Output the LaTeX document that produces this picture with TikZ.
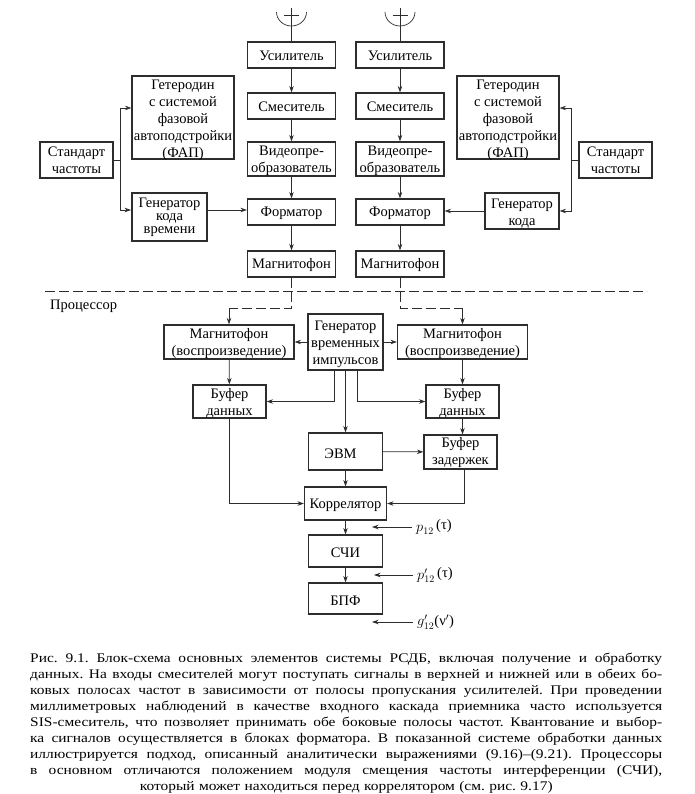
\documentclass[tikz,border=0pt]{standalone}
\usepackage{fontspec}
\setmainfont{Liberation Serif}
\newfontfamily\capfont[FakeStretch=1.17]{Liberation Serif}
\usepackage{tikz}
\usetikzlibrary{arrows.meta,positioning}
\definecolor{lineink}{RGB}{45,45,45}
\tikzstyle{block} = [rectangle, inner sep=0pt, text centered, align=center, draw=lineink, line width=1.2pt, font=\fontsize{14.5}{17}\selectfont]
\tikzstyle{chain} = [block, minimum width=88pt, minimum height=26pt, execute at begin node=\rule{0pt}{12pt}]
\tikzstyle{hetbox} = [block, minimum width=102pt, minimum height=83pt]
\tikzstyle{stdbox} = [block, minimum width=73pt, minimum height=36pt]
\tikzstyle{playbox} = [block, minimum width=130pt, minimum height=34pt]
\tikzstyle{bufbox} = [block, minimum width=73pt, minimum height=33pt]
\tikzstyle{corebox} = [block, minimum width=74pt, execute at begin node=\rule{0pt}{14pt}]
\tikzstyle{arrow} = [line width=0.7pt,->,>={Stealth[length=6.5pt,width=4.5pt]},color=lineink]
\tikzstyle{plain} = [line width=0.7pt,color=lineink]
\tikzstyle{dashline} = [line width=0.7pt,color=lineink,dash pattern=on 10pt off 4pt]
\tikzstyle{sigtext} = [anchor=west, inner sep=4pt, font=\fontsize{14.5}{16}\selectfont]
\newcommand{\capline}[1]{\leavevmode\hbox to 632pt{\spaceskip=.25em plus 1fil minus .05em\relax #1}\\}
\newcommand{\lowgap}[1]{\rule{0pt}{#1pt}}
\begin{document}
\begin{tikzpicture}[x=1pt, y=-1pt]
\useasboundingbox (0,0) rectangle (694,794);

% Receiving chains
\node (usilA) [chain] at (291.5,55) {Усилитель};
\node (smesA) [chain] at (291.5,106) {Смеситель};
\node (videoA) [chain, minimum height=34pt] at (291.5,159) {\lowgap{14}Видеопре-\\образователь};
\node (formA) [chain] at (291.5,212) {Форматор};
\node (magA) [chain] at (291.5,264) {Магнитофон};
\node (usilB) [chain] at (400,55) {Усилитель};
\node (smesB) [chain] at (400,106) {Смеситель};
\node (videoB) [chain, minimum height=34pt] at (400,159) {\lowgap{14}Видеопре-\\образователь};
\node (formB) [chain] at (400,212) {Форматор};
\node (magB) [chain] at (400,264) {Магнитофон};

% Oscillators and standards
\node (hetA) [hetbox] at (183,117.5) {\lowgap{12}Гетеродин\\с системой\\фазовой\\автоподстройки\\(ФАП)\vspace{-2.5pt}};
\node (hetB) [hetbox] at (508,117.5) {\lowgap{12}Гетеродин\\с системой\\фазовой\\автоподстройки\\(ФАП)\vspace{-2.5pt}};
\node (stdA) [stdbox] at (76.5,160) {Стандарт\\частоты};
\node (stdB) [stdbox] at (615.5,160) {Стандарт\\частоты};
\node (codeA) [block, minimum width=75pt, minimum height=48pt, line width=1.9pt, font=\fontsize{14.5}{13}\selectfont] at (169.5,217) {Генератор\\кода\\времени};
\node (codeB) [block, minimum width=74pt, minimum height=36pt] at (522,211) {\lowgap{14}Генератор\\кода};

% Antennas
\coordinate (feedA) at (291.5,8);
\coordinate (feedB) at (400,8);
\draw[plain] (276.5,12) arc[start angle=180, end angle=360, x radius=15pt, y radius=14pt];
\draw[plain] (385,12) arc[start angle=180, end angle=360, x radius=15pt, y radius=14pt];
\draw[plain] (284,15) -- (299,15);
\draw[plain] (392.5,15) -- (407.5,15);
\draw[plain] (feedA) -- (usilA);
\draw[plain] (feedB) -- (usilB);

% Chain arrows
\draw[arrow] (usilA) -- (smesA);
\draw[arrow] (smesA) -- (videoA);
\draw[arrow] (videoA) -- (formA);
\draw[arrow] (formA) -- (magA);
\draw[arrow] (usilB) -- (smesB);
\draw[arrow] (smesB) -- (videoB);
\draw[arrow] (videoB) -- (formB);
\draw[arrow] (formB) -- (magB);

% Frequency standard forks
\coordinate (forkA) at (120,160);
\coordinate (forkB) at (571,160);
\draw[plain] (stdA.east) -- (forkA);
\draw[plain] (stdB.west) -- (forkB);
\draw[arrow] (forkA) |- ([yshift=9.5pt]hetA.west);
\draw[arrow] (forkA) |- ([yshift=7pt]codeA.west);
\draw[arrow] (forkB) |- ([yshift=9.5pt]hetB.east);
\draw[arrow] (forkB) |- (codeB.east);
\draw[arrow] ([yshift=7pt]codeA.east) -- ([yshift=2pt]formA.west);
\draw[arrow] (codeB.west) -- ([yshift=1pt]formB.east);

% Separator
\coordinate (sepA) at (45,291);
\coordinate (sepB) at (647,291);
\draw[dashline] (sepA) -- (sepB);
\node (proc) [anchor=west, inner sep=0pt, font=\fontsize{14.5}{16}\selectfont] at (50,306) {Процессор};

% Processor blocks
\node (playA) [playbox] at (229,342) {\lowgap{13}Магнитофон\\(воспроизведение)};
\node (playB) [playbox] at (462.5,342) {\lowgap{13}Магнитофон\\(воспроизведение)};
\node (pulse) [corebox, minimum width=75pt, minimum height=56pt] at (345.5,342) {\lowgap{14}Генератор\\временных\\импульсов};
\node (bufA) [bufbox] at (229.5,401.5) {\lowgap{13}Буфер\\данных};
\node (bufB) [bufbox] at (462.5,401.5) {\lowgap{13}Буфер\\данных};
\node (evm) [corebox, minimum height=37pt] at (345.5,451.5) {ЭВМ\hspace{10pt}};
\node (delay) [bufbox, minimum height=34pt] at (460.5,452) {\lowgap{12}Буфер\\задержек};
\node (corr) [corebox, minimum width=82pt, minimum height=33pt] at (345.5,503.5) {Коррелятор};
\node (fringe) [corebox, minimum height=32pt] at (345.5,551) {СЧИ};
\node (fft) [corebox, minimum height=31pt] at (345.5,598.5) {БПФ};

% Tape links across the separator
\coordinate (tapeA) at (291.5,308);
\coordinate (tapeB) at (400,308);
\coordinate (dropA) at (229,308);
\coordinate (dropB) at (462.5,308);
\draw[dashline] (magA.south) -- (tapeA) -- (dropA);
\draw[dashline] (magB.south) -- (tapeB) -- (dropB);
\draw[arrow] (dropA) -- (playA.north);
\draw[arrow] (dropB) -- (playB.north);

% Processor arrows
\draw[arrow] (pulse) -- (playA);
\draw[arrow] (pulse) -- (playB);
\draw[arrow] ([xshift=-11.5pt]pulse.south) |- (bufA.east);
\draw[arrow] ([xshift=11.5pt]pulse.south) |- (bufB.west);
\draw[arrow] (pulse) -- (evm);
\draw[arrow] (playA) -- (bufA);
\draw[arrow] (playB) -- (bufB);
\draw[arrow] (bufB.south) -- (bufB.south |- delay.north);
\draw[arrow] (evm) -- (delay);
\draw[arrow] (evm) -- (corr);
\draw[arrow] (bufA.south) |- (corr.west);
\draw[arrow] ([xshift=3.5pt]delay.south) |- (corr.east);
\draw[arrow] (corr) -- (fringe);
\draw[arrow] (fringe) -- (fft);

% Signal labels
\node (sigP) [sigtext] at (412,527) {$p^{}_{12}$\,\raisebox{2pt}{(τ)}};
\node (sigQ) [sigtext] at (413,575) {$p'_{12}$\,\raisebox{2pt}{(τ)}};
\node (sigG) [sigtext] at (413,622) {$g'_{12}$(ν$'$)};
\coordinate (endP) at (372,527);
\coordinate (endQ) at (374,575);
\coordinate (endG) at (372,622);
\draw[arrow] (sigP.west) -- (endP);
\draw[arrow] (sigQ.west) -- (endQ);
\draw[arrow] (sigG.west) -- (endG);

% Caption
\node (caption) [anchor=north west, inner sep=0pt, text width=632pt, align=left, font=\capfont\fontsize{13.2}{16}\selectfont\frenchspacing] at (30,653) {%
\capline{Рис. 9.1. Блок-схема основных элементов системы РСДБ, включая получение и обработку}
\capline{данных. На входы смесителей могут поступать сигналы в верхней и нижней или в обеих бо-}
\capline{ковых полосах частот в зависимости от полосы пропускания усилителей. При проведении}
\capline{миллиметровых наблюдений в качестве входного каскада приемника часто используется}
\capline{SIS-смеситель, что позволяет принимать обе боковые полосы частот. Квантование и выбор-}
\capline{ка сигналов осуществляется в блоках форматора. В показанной системе обработки данных}
\capline{иллюстрируется подход, описанный аналитически выражениями (9.16)–(9.21). Процессоры}
\capline{в основном отличаются положением модуля смещения частоты интерференции (СЧИ),}
\makebox[632pt][c]{который может находиться перед коррелятором (см. рис. 9.17)}};
\end{tikzpicture}
\end{document}
